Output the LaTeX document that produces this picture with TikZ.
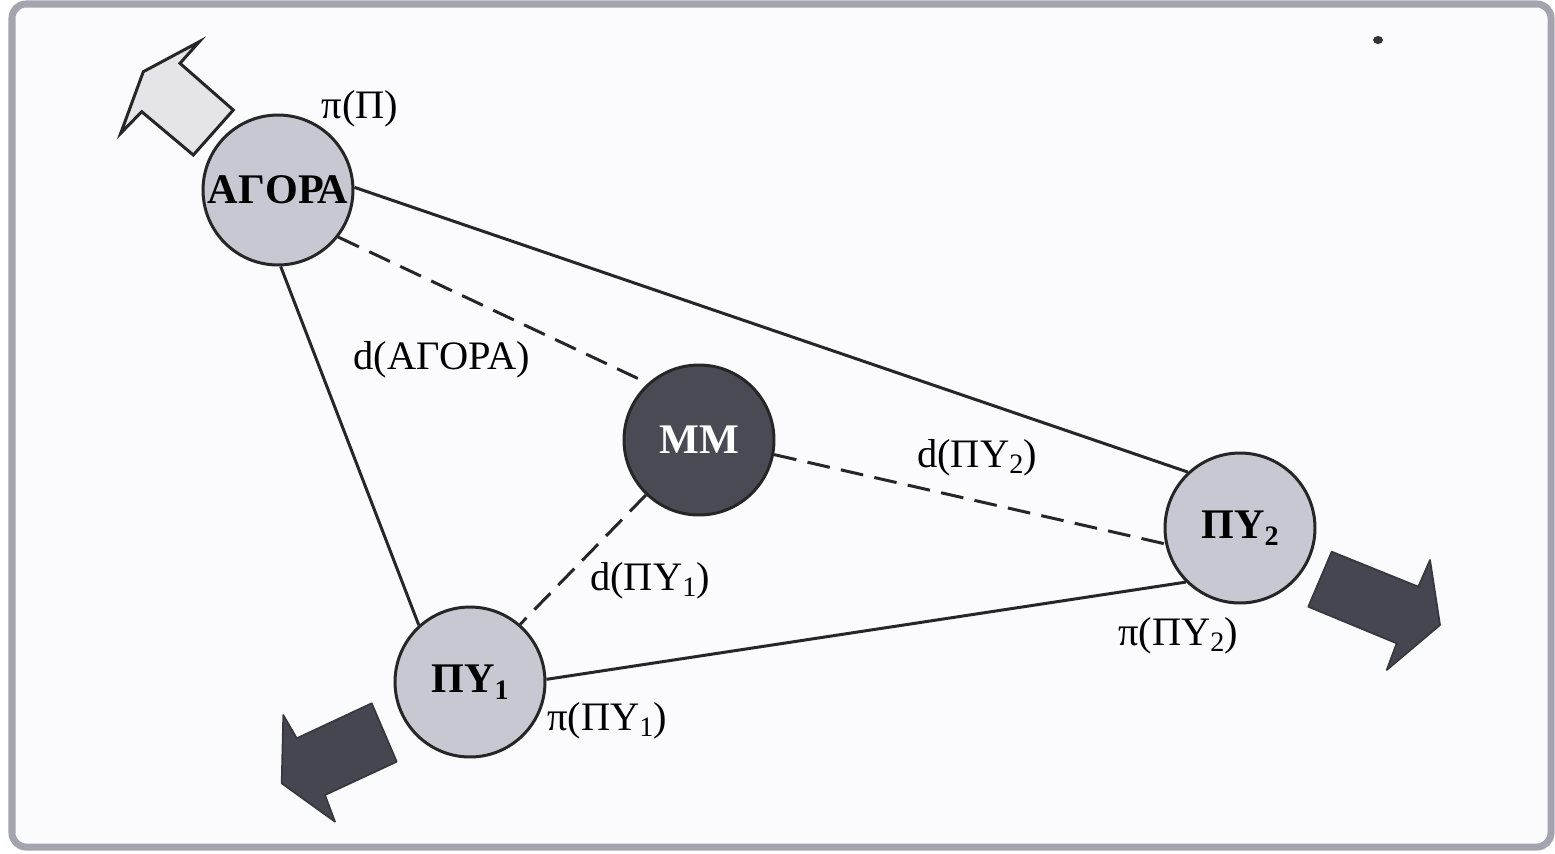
\documentclass[tikz,border=0pt]{standalone}
\usepackage{fontspec}
\setmainfont{Liberation Serif}
\definecolor{circlegray}{HTML}{C8C8D2}
\definecolor{mmdark}{HTML}{4A4A55}
\definecolor{arrowdark}{HTML}{45464F}
\definecolor{arrowlight}{HTML}{E4E4E9}
\definecolor{framegray}{HTML}{A4A4AE}
\definecolor{bgpaper}{HTML}{FBFBFD}
\newcommand{\sbs}[1]{\raisebox{-0.35ex}{\fontsize{16}{16}\selectfont #1}}
\begin{document}
\begin{tikzpicture}[x=0.02cm,y=-0.02cm,
  station/.style={circle,draw=black!85,line width=1.7pt,minimum size=3cm,inner sep=0pt,
    fill=circlegray,font=\fontsize{24}{24}\selectfont\bfseries},
  center/.style={station,fill=mmdark,text=white},
  link/.style={draw=black!85,line width=1.7pt},
  dlink/.style={link,dash pattern=on 13pt off 6.5pt},
  lbl/.style={font=\fontsize{23}{23}\selectfont,inner sep=0pt,anchor=base},
  blockdark/.style={fill=arrowdark,draw=arrowdark!80!black,line width=1pt,line join=round},
  blocklight/.style={fill=arrowlight,draw=black!85,line width=1.7pt,line join=miter}]
\useasboundingbox (0,0) rectangle (1555,853);
% frame
\draw[draw=framegray,line width=4pt,rounded corners=8pt,fill=bgpaper] (12,4) rectangle (1551,847);
\fill[black!80] (1378,40) ellipse (5 and 4);
% block arrows
\draw[blocklight] (143.3,71.7) -- (199.3,41.7) -- (180,63.3) -- (233.3,110) -- (193.3,155)
  -- (141.7,111.7) -- (120.7,133.3) -- cycle;
\draw[blockdark] (281.7,783.3) -- (283.3,715) -- (296.7,738.3) -- (371.7,703.3) -- (396.7,761.7)
  -- (325,795) -- (335,821.7) -- cycle;
\draw[blockdark] (1440,625) -- (1386.7,670) -- (1396.7,643.3) -- (1308.3,606.7) -- (1331.7,551.7)
  -- (1418.3,586.7) -- (1430,560) -- cycle;
% nodes
\node[station] (agora) at (278,190) {ΑΓΟΡΑ};
\node[center] (mm) at (699,440) {ΜΜ};
\node[station] (py1) at (470,682) {ΠΥ\sbs{1}};
\node[station] (py2) at (1240,528) {ΠΥ\sbs{2}};
% solid connectors
\draw[link] (agora.2) -- (py2.133);
\draw[link] (agora.-88) -- (py1.132);
\draw[link] (py1.2) -- (py2.225);
% dashed connectors
\draw[dlink] (agora.-38) -- (mm.132);
\draw[dlink] (mm.-11) -- (py2.192);
\draw[dlink] (mm.226) -- (py1.49);
% labels
\node[lbl] (lpi) at (360,118) {π(Π)};
\node[lbl] (ldag) at (442,369) {d(ΑΓΟΡΑ)};
\node[lbl] (ldpy2) at (977,467) {d(ΠΥ\sbs{2})};
\node[lbl] (ldpy1) at (650,590) {d(ΠΥ\sbs{1})};
\node[lbl] (lppy1) at (607,730) {π(ΠΥ\sbs{1})};
\node[lbl] (lppy2) at (1178,645) {π(ΠΥ\sbs{2})};
\end{tikzpicture}
\end{document}
